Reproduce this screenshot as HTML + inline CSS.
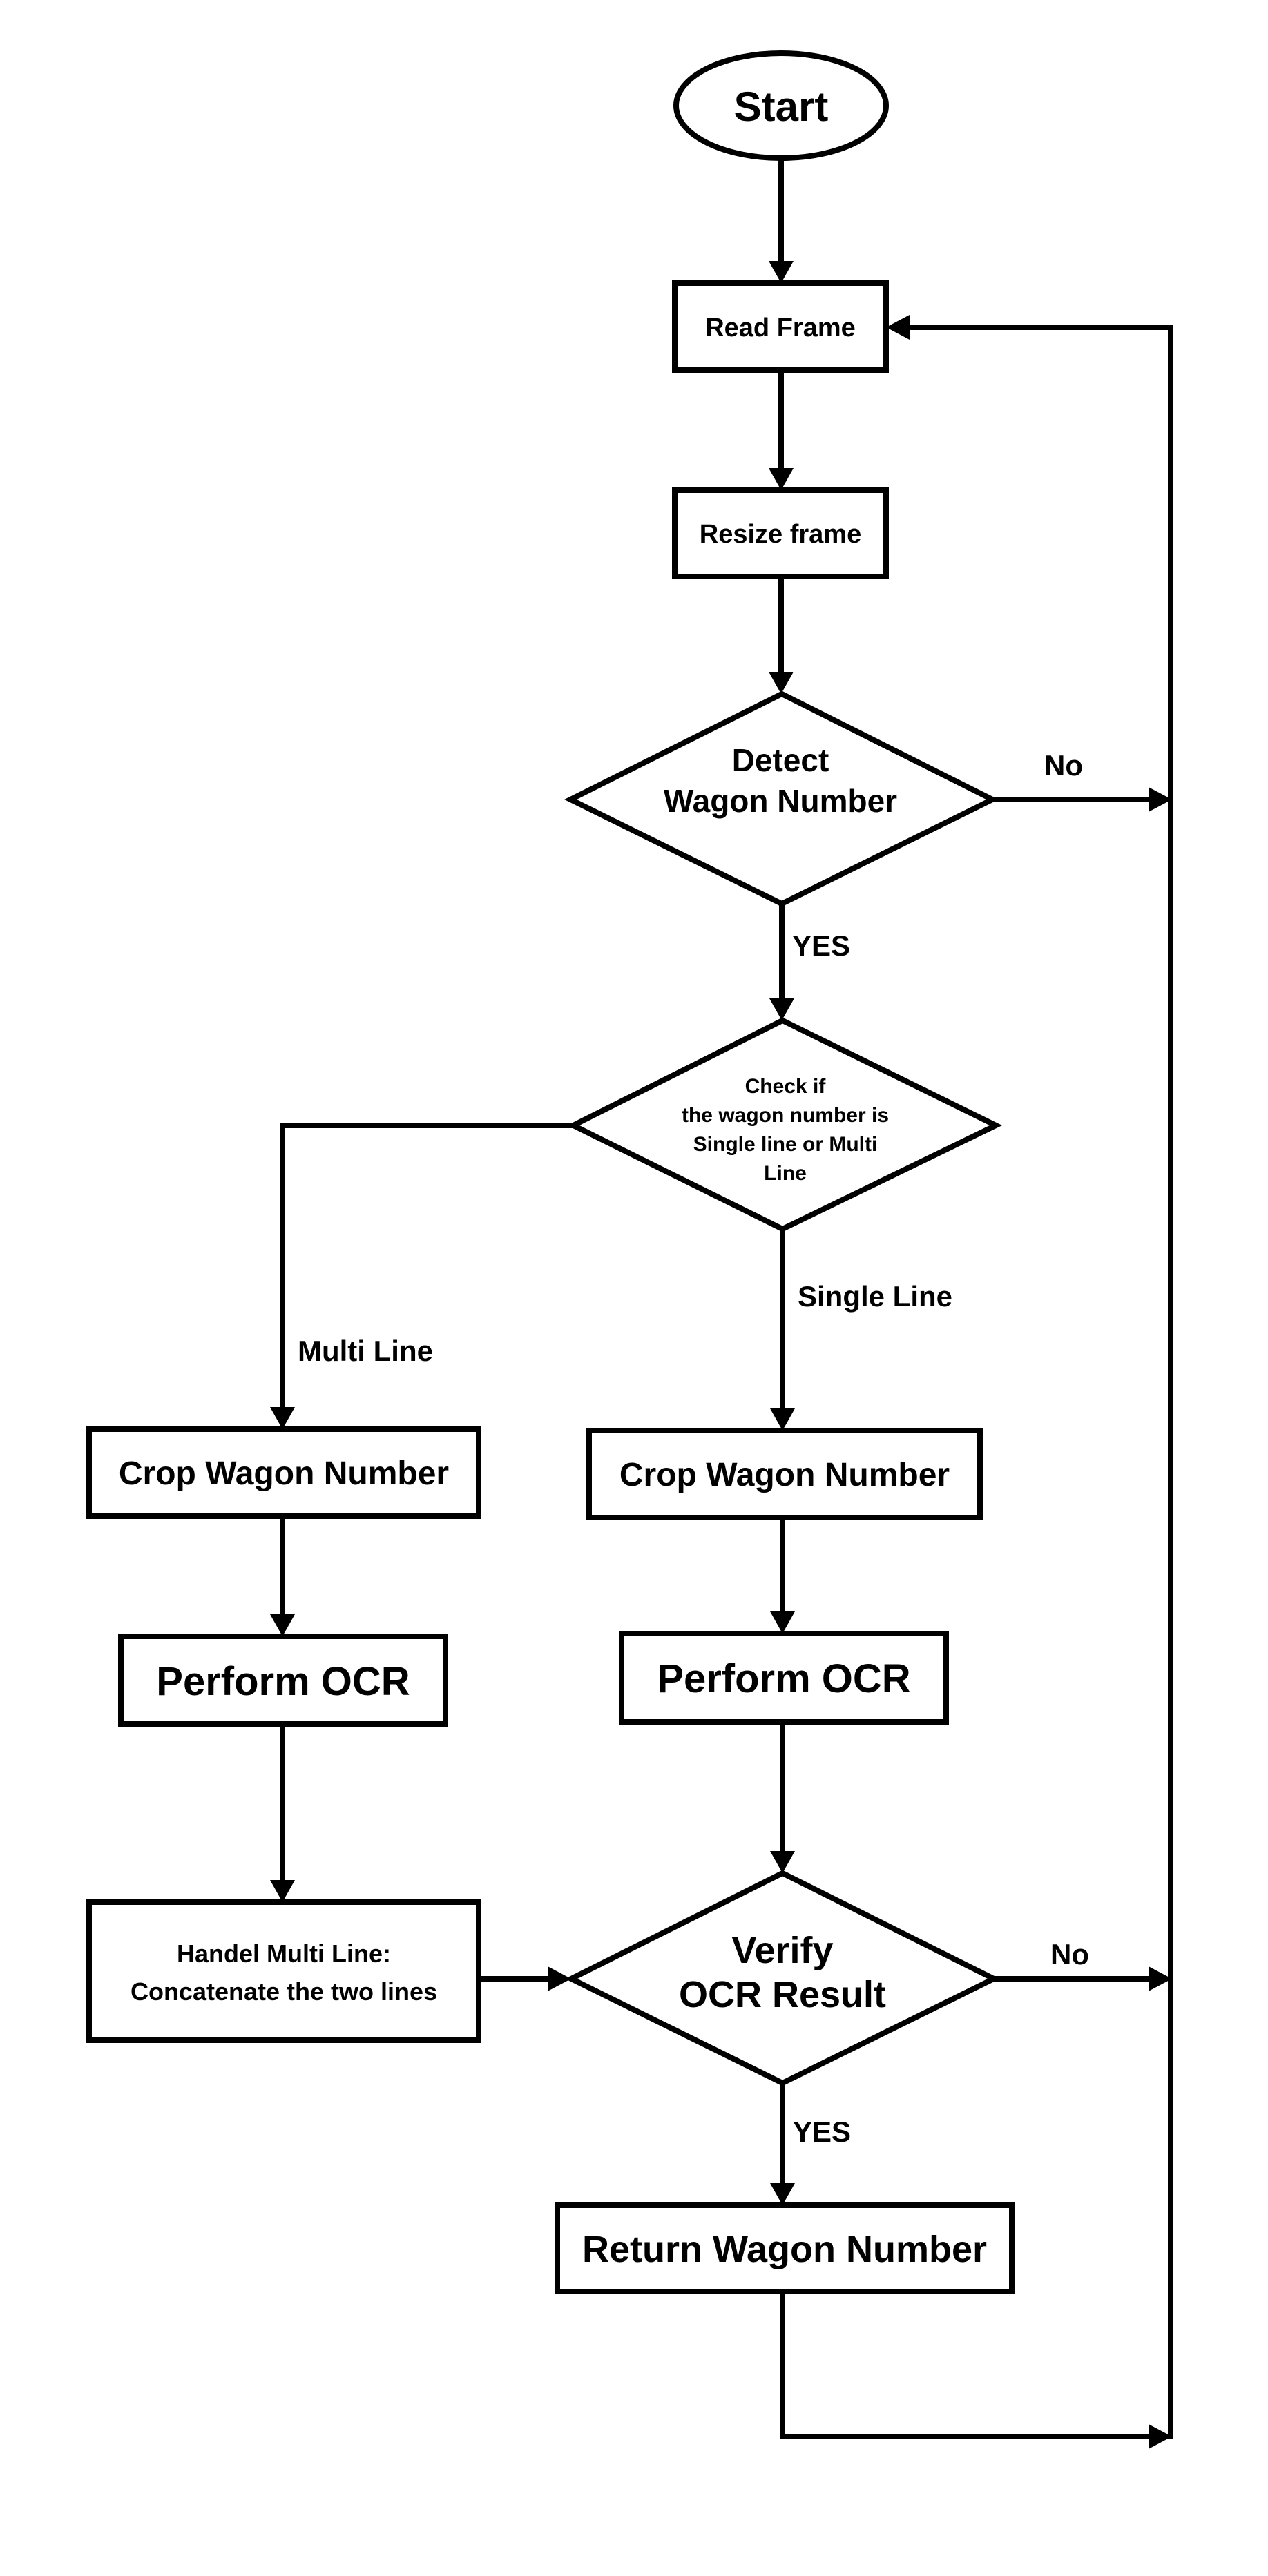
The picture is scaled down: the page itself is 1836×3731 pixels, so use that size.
<!DOCTYPE html>
<html><head><meta charset="utf-8"><style>html,body{margin:0;padding:0;background:#fff}</style></head>
<body>
<svg width="1836" height="3726" viewBox="0 0 1836 3726" xmlns="http://www.w3.org/2000/svg" font-family="Liberation Sans, Arial, sans-serif" font-weight="bold" text-anchor="middle">
<g transform="translate(-5,0)">
<g fill="none" stroke="#000" stroke-width="8">
<ellipse cx="1136" cy="153" rx="152" ry="76"/>
<rect x="982" y="410" width="306" height="126"/>
<rect x="982" y="710" width="306" height="125"/>
<polygon points="1137,1005 1442,1158 1137,1309 831,1158"/>
<polygon points="1138,1478 1447,1630 1138,1780 835,1630"/>
<rect x="134" y="2070" width="564" height="126"/>
<rect x="858" y="2072" width="566" height="126"/>
<rect x="180" y="2370" width="470" height="127"/>
<rect x="905" y="2366" width="470" height="128"/>
<rect x="134" y="2755" width="564" height="200"/>
<polygon points="1138,2713 1444,2866 1138,3017 832,2866"/>
<rect x="812" y="3194" width="658" height="125"/>
<polyline points="1136,229 1136,380"/>
<polyline points="1136,536 1136,680"/>
<polyline points="1136,835 1136,975"/>
<polyline points="1137,1309 1137,1445"/>
<polyline points="835,1630 414,1630 414,2040"/>
<polyline points="1138,1780 1138,2040"/>
<polyline points="414,2196 414,2340"/>
<polyline points="1138,2198 1138,2335"/>
<polyline points="414,2497 414,2725"/>
<polyline points="1138,2494 1138,2683"/>
<polyline points="698,2866 800,2866"/>
<polyline points="1442,1158 1672,1158"/>
<polyline points="1444,2866 1672,2866"/>
<polyline points="1138,3017 1138,3163"/>
<polyline points="1138,3319 1138,3529 1672,3529"/>
<polyline points="1700,3533 1700,474 1320,474"/>
</g>
<g fill="#000">
<polygon points="1118,378 1154,378 1136,410"/>
<polygon points="1118,678 1154,678 1136,710"/>
<polygon points="1118,973 1154,973 1136,1005"/>
<polygon points="1119,1446 1155,1446 1137,1478"/>
<polygon points="396,2038 432,2038 414,2070"/>
<polygon points="1120,2040 1156,2040 1138,2072"/>
<polygon points="396,2338 432,2338 414,2370"/>
<polygon points="1120,2334 1156,2334 1138,2366"/>
<polygon points="396,2723 432,2723 414,2755"/>
<polygon points="1120,2681 1156,2681 1138,2713"/>
<polygon points="798,2848 798,2884 832,2866"/>
<polygon points="1668,1140 1668,1176 1702,1158"/>
<polygon points="1668,2848 1668,2884 1702,2866"/>
<polygon points="1120,3162 1156,3162 1138,3194"/>
<polygon points="1668,3511 1668,3547 1702,3529"/>
<polygon points="1322,456 1322,492 1288,474"/>
</g>
<g fill="#000">
<text x="1136" y="175" font-size="60">Start</text>
<text x="1135" y="487" font-size="38">Read Frame</text>
<text x="1135" y="786" font-size="38">Resize frame</text>
<text x="1135" y="1117" font-size="46">Detect</text>
<text x="1135" y="1176" font-size="46">Wagon Number</text>
<text x="1545" y="1123" font-size="42">No</text>
<text x="1194" y="1384" font-size="42">YES</text>
<text x="1142" y="1583" font-size="30">Check if</text>
<text x="1142" y="1625" font-size="30">the wagon number is</text>
<text x="1142" y="1667" font-size="30">Single line or Multi</text>
<text x="1142" y="1709" font-size="30">Line</text>
<text x="1272" y="1892" font-size="42">Single Line</text>
<text x="534" y="1971" font-size="42">Multi Line</text>
<text x="416" y="2150" font-size="48">Crop Wagon Number</text>
<text x="1141" y="2152" font-size="48">Crop Wagon Number</text>
<text x="415" y="2455" font-size="58">Perform OCR</text>
<text x="1140" y="2451" font-size="58">Perform OCR</text>
<text x="416" y="2842" font-size="36">Handel Multi Line:</text>
<text x="416" y="2897" font-size="36">Concatenate the two lines</text>
<text x="1138" y="2843" font-size="54">Verify</text>
<text x="1138" y="2907" font-size="54">OCR Result</text>
<text x="1554" y="2845" font-size="42">No</text>
<text x="1195" y="3102" font-size="42">YES</text>
<text x="1141" y="3276" font-size="54">Return Wagon Number</text>
</g>
</g>
</svg>
</body></html>
